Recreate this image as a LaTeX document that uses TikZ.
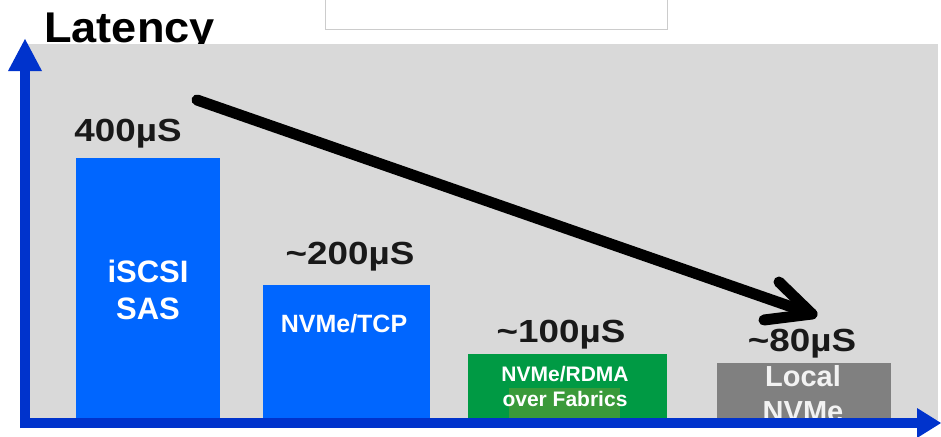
\documentclass[tikz,border=0pt]{standalone}
\usepackage{fontspec}
\setmainfont{Liberation Sans}
\usetikzlibrary{arrows.meta}
\definecolor{panelgray}{HTML}{D9D9D9}
\definecolor{barblue}{HTML}{0066FF}
\definecolor{axisblue}{HTML}{0033CC}
\definecolor{bargreen}{HTML}{009A44}
\definecolor{innergreen}{HTML}{3A9A3A}
\definecolor{bargray}{HTML}{808080}
\tikzset{
  vallabel/.style={font=\bfseries\fontsize{32}{32}\selectfont, text=black!90, inner sep=0pt, xscale=1.15},
  barlabel/.style={font=\bfseries\fontsize{#1}{#1}\selectfont, text=white, inner sep=0pt, align=center},
  axis/.style={axisblue, line width=10pt},
}
\begin{document}
\begin{tikzpicture}[x=1pt,y=-1pt]
\useasboundingbox (0,0) rectangle (941,436);
\fill[white] (0,0) rectangle (941,436);
% top white box
\draw[black!20, line width=0.8pt] (325,0) -- (325,29) -- (667,29) -- (667,0);
% title
\node[font=\bfseries\fontsize{43}{43}\selectfont, anchor=base west, inner sep=0pt, xscale=1.05] (title) at (44,43) {Latency};
% panel
\fill[panelgray] (28,44) rectangle (938,420);
% bars
\fill[barblue] (76,158) rectangle (220,420);
\fill[barblue] (263,285) rectangle (430,420);
\fill[bargreen] (468,354) rectangle (667,420);
\fill[innergreen] (509,388) rectangle (620,420);
\fill[bargray] (717,363) rectangle (891,420);
% value labels
\node[vallabel] (v1) at (128,134) {400µS};
\node[vallabel] (v2) at (350,257) {\textasciitilde200µS};
\node[vallabel] (v3) at (561,335) {\textasciitilde100µS};
\node[vallabel] (v4) at (802,344) {\textasciitilde80µS};
% bar labels
\node[barlabel=31] (b1) at (148,290) {iSCSI\\[6pt]SAS};
\node[barlabel=25] (b2) at (344,324) {NVMe/TCP};
\node[barlabel=21] (b3) at (565,386) {NVMe/RDMA\\[4pt]over Fabrics};
\node[barlabel=29, text=white!95!black] (b4) at (803,394) {Local\\[6pt]NVMe};
% axes
\coordinate (origin) at (25,423);
\coordinate (ytip) at (25,39);
\coordinate (xtip) at (941,423);
\draw[axis, line cap=butt] (25,428) -- (25,66);
\draw[axis] (20,423) -- (920,423);
\fill[axisblue] (ytip) -- (42,71) -- (8,71) -- cycle;
\fill[axisblue] (xtip) -- (917,408) -- (917,438) -- cycle;
% trend arrow
\coordinate (tstart) at (197,100);
\coordinate (tend) at (812,314);
\draw[line width=11pt, line cap=round] (tstart) -- (tend);
\draw[line width=11pt, line cap=round, line join=round] (779,282) -- (tend) -- (764,320);
\end{tikzpicture}
\end{document}
